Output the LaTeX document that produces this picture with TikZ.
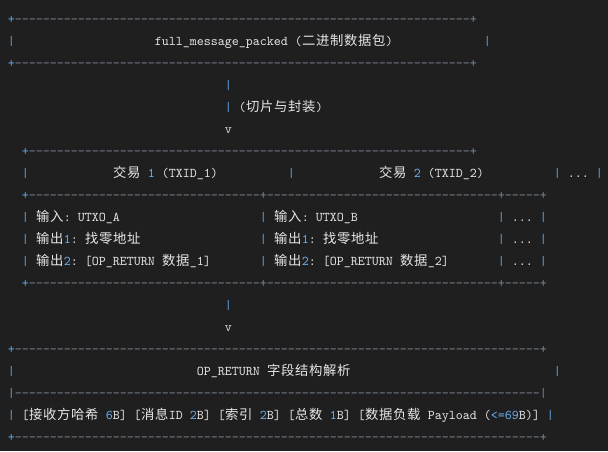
\documentclass[tikz,border=0pt]{standalone}
\usepackage{fontspec}
\newfontfamily\cjk{Noto Sans CJK SC}
\newfontfamily\mono{lmmono10-regular.otf}
\definecolor{bg}{HTML}{1F1F1F}
\definecolor{txt}{HTML}{E6E6E6}
\definecolor{pipe}{HTML}{5FA4E8}
\definecolor{dashc}{HTML}{7A8692}
\definecolor{num}{HTML}{6AB0F3}
\newlength\cw \setlength\cw{7pt}
\makeatletter
\newcommand\zh[1]{\@tfor\zc:=#1\do{\makebox[14pt][c]{\cjk\zc}}}
\makeatother
\newcommand\gap[1]{\hspace*{#1\cw}}
\newcommand\B[1]{\textcolor{pipe}{#1}}
\newcommand\G[1]{\textcolor{dashc}{#1}}
\newcommand\N[1]{\textcolor{num}{#1}}
\newcommand\dashes[1]{\textcolor{dashc}{\foreach \k in {1,...,#1}{\makebox[\cw][c]{-}}}}
\tikzset{row/.style={anchor=base west, inner sep=0pt, outer sep=0pt, text=txt,
  font=\mono\fontsize{13.333}{16}\selectfont\frenchspacing}}
\begin{document}
\begin{tikzpicture}[x=1pt,y=-1pt]
\fill[bg] (0,0) rectangle (608,451);
\useasboundingbox (0,0) rectangle (608,451);
\def\X{7.8}
\node[row] (r0) at (\X, 23.00) {\B{+}\dashes{65}\G{+}};
\node[row] (r1) at (\X, 45.05) {\B{|}\gap{20}full\_message\_packed (\zh{二进制数据包})\gap{13}\B{|}};
\node[row] (r2) at (\X, 67.10) {\B{+}\dashes{65}\G{+}};
\node[row] (r3) at (\X, 89.15) {\gap{31}\B{|}};
\node[row] (r4) at (\X,111.20) {\gap{31}\B{|} (\zh{切片与封装})};
\node[row] (r5) at (\X,133.25) {\gap{31}v};
\node[row] (r6) at (\X,155.30) {\gap{2}\B{+}\dashes{63}\G{+}};
\node[row] (r7) at (\X,177.35) {\gap{2}\B{|}\gap{12}\zh{交易} \N{1} (TXID\_1)\gap{10}\B{|}\gap{12}\zh{交易} \N{2} (TXID\_2)\gap{10}\B{|} ... \B{|}};
\node[row] (r8) at (\X,199.40) {\gap{2}\B{+}\dashes{33}\G{+}\dashes{33}\G{+}\dashes{5}\G{+}};
\node[row] (r9) at (\X,221.45) {\gap{2}\B{|} \zh{输入}: UTXO\_A\gap{20}\B{|} \zh{输入}: UTXO\_B\gap{20}\B{|} ... \B{|}};
\node[row] (r10) at (\X,243.50) {\gap{2}\B{|} \zh{输出}\N{1}: \zh{找零地址}\gap{17}\B{|} \zh{输出}\N{1}: \zh{找零地址}\gap{17}\B{|} ... \B{|}};
\node[row] (r11) at (\X,265.55) {\gap{2}\B{|} \zh{输出}\N{2}: [OP\_RETURN \zh{数据}\_1]\gap{7}\B{|} \zh{输出}\N{2}: [OP\_RETURN \zh{数据}\_2]\gap{7}\B{|} ... \B{|}};
\node[row] (r12) at (\X,287.60) {\gap{2}\B{+}\dashes{33}\G{+}\dashes{33}\G{+}\dashes{5}\G{+}};
\node[row] (r13) at (\X,309.65) {\gap{31}\B{|}};
\node[row] (r14) at (\X,331.70) {\gap{31}v};
\node[row] (r15) at (\X,353.75) {\B{+}\dashes{75}\G{+}};
\node[row] (r16) at (\X,375.80) {\B{|}\gap{26}OP\_RETURN \zh{字段结构解析}\gap{29}\B{|}};
\node[row] (r17) at (\X,397.85) {\B{|}\dashes{75}\G{|}};
\node[row] (r18) at (\X,419.90) {\B{|} [\zh{接收方哈希} \N{6}B] [\zh{消息}ID \N{2}B] [\zh{索引} \N{2}B] [\zh{总数} \N{1}B] [\zh{数据负载} Payload (\N{<=69}B)] \B{|}};
\node[row] (r19) at (\X,441.95) {\B{+}\dashes{75}\G{+}};
\end{tikzpicture}
\end{document}
